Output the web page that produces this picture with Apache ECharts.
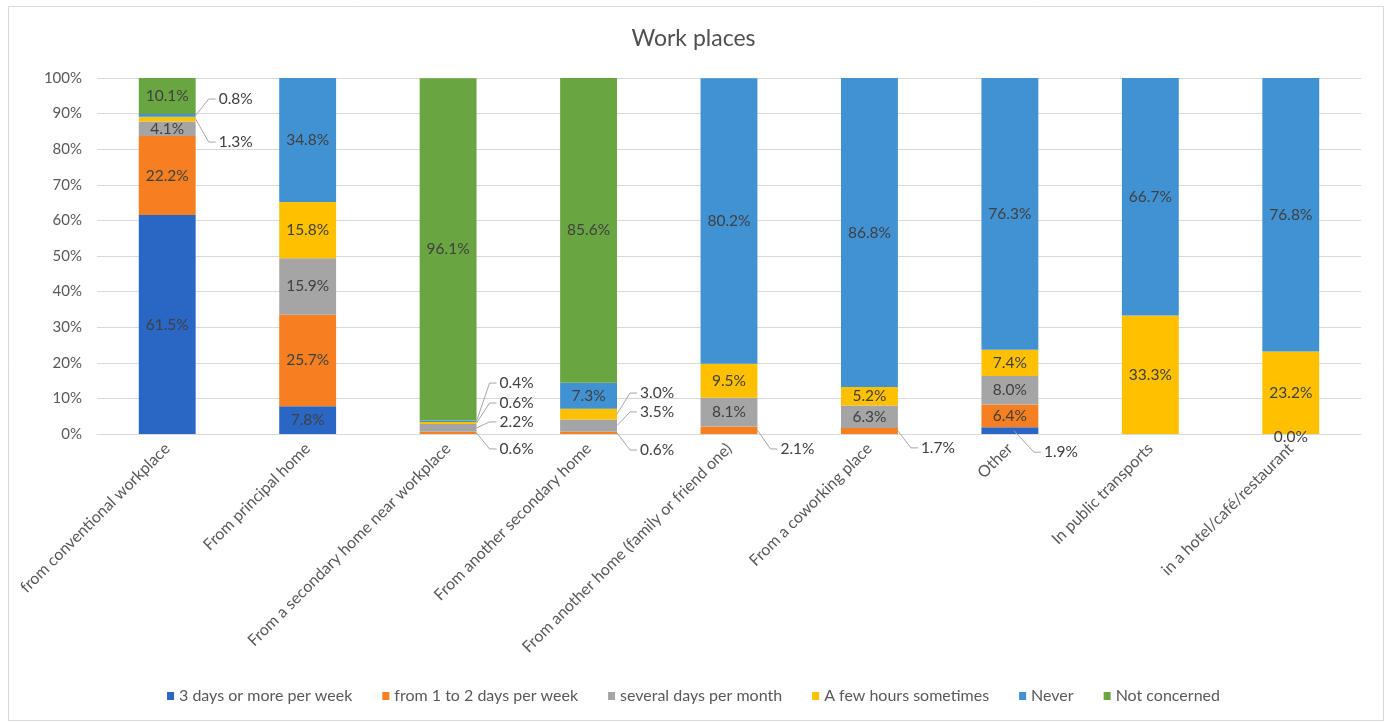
<!DOCTYPE html>
<html>
<head>
<meta charset="utf-8">
<script src="https://cdn.jsdelivr.net/npm/echarts@6/dist/echarts.min.js"></script>
<style>
html,body{margin:0;padding:0;background:#fff;}
#chart{width:1387px;height:723px;}
</style>
</head>
<body>
<div id="chart"></div>
<script>
// ---- Data ----
const categories = [
  "from conventional workplace",
  "From principal home",
  "From a secondary home near workplace",
  "From another secondary home",
  "From another home (family or friend one)",
  "From a coworking place",
  "Other",
  "In public transports",
  "in a hotel/café/restaurant"
];
const seriesNames = [
  "3 days or more per week",
  "from 1 to 2 days per week",
  "several days per month",
  "A few hours sometimes",
  "Never",
  "Not concerned"
];
const threeDaysOrMore = [61.5, 7.8, 0, 0, 0, 0, 1.9, 0, 0];
const oneToTwoDays    = [22.2, 25.7, 0.6, 0.6, 2.1, 1.7, 6.4, 0, 0];
const severalPerMonth = [4.1, 15.9, 2.2, 3.5, 8.1, 6.3, 8.0, 0, 0];
const fewHours        = [1.3, 15.8, 0.6, 3.0, 9.5, 5.2, 7.4, 33.3, 23.2];
const never           = [0.8, 34.8, 0.4, 7.3, 80.2, 86.8, 76.3, 66.7, 76.8];
const notConcerned    = [10.1, 0, 96.1, 85.6, 0, 0, 0, 0, 0];
const yTickLabels = ["0%","10%","20%","30%","40%","50%","60%","70%","80%","90%","100%"];

const seriesValues = [threeDaysOrMore, oneToTwoDays, severalPerMonth, fewHours, never, notConcerned];

// ---- Styling / layout (not data) ----
const colors = ['#2a66c4', '#f57f21', '#a5a5a5', '#ffc000', '#4192d3', '#69a642'];
const FONT = 'Lato, "Liberation Sans", sans-serif';
const LABEL_COLOR = '#404040';
const LABEL_SIZE = 15.5;
const BAR_W = 0.405;
// Callout labels for thin segments: category, series, text level on the axis
const calloutLayout = [
  {cat: 0, s: 4, ty: 94.1},
  {cat: 0, s: 3, ty: 82.0},
  {cat: 2, s: 4, ty: 14.3},
  {cat: 2, s: 3, ty: 8.7},
  {cat: 2, s: 2, ty: 3.4},
  {cat: 2, s: 1, ty: -4.2},
  {cat: 3, s: 3, ty: 11.5},
  {cat: 3, s: 2, ty: 6.2},
  {cat: 3, s: 1, ty: -4.5},
  {cat: 4, s: 1, ty: -4.2},
  {cat: 5, s: 1, ty: -3.9},
  {cat: 6, s: 0, ty: -5.1, fromCenter: true},
  {cat: 8, s: 0, ty: null}
];

const chart = echarts.init(document.getElementById('chart'), null, {renderer: 'canvas'});

const barSeries = seriesNames.map((name, i) => ({
  name: name,
  type: 'bar',
  stack: 'total',
  barWidth: (BAR_W * 100) + '%',
  data: seriesValues[i],
  itemStyle: {color: colors[i]},
  emphasis: {disabled: true},
  label: {
    show: true,
    position: 'inside',
    color: LABEL_COLOR,
    fontFamily: FONT,
    fontSize: LABEL_SIZE,
    formatter: p => (p.value >= 4 ? p.value.toFixed(1) + '%' : '')
  }
}));

const calloutSeries = {
  type: 'custom',
  name: 'callouts',
  z: 10,
  clip: false,
  silent: true,
  data: calloutLayout.map(c => [c.cat, 0]),
  renderItem: function (params, api) {
    const c = calloutLayout[params.dataIndex];
    let base = 0;
    for (let k = 0; k < c.s; k++) base += seriesValues[k][c.cat];
    const v = seriesValues[c.s][c.cat];
    const mid = api.coord([c.cat, base + v / 2]);
    const half = api.size([1, 0])[0] * BAR_W / 2;
    const text = v.toFixed(1) + '%';
    const font = LABEL_SIZE + 'px ' + FONT;
    if (c.ty === null) {
      return {type: 'text', style: {x: mid[0], y: mid[1] + 3, text: text, align: 'center', verticalAlign: 'middle', fill: LABEL_COLOR, font: font}};
    }
    const ty = api.coord([c.cat, c.ty])[1];
    const x0 = c.fromCenter ? mid[0] + 4 : mid[0] + half;
    const e = c.fromCenter ? 20 : 13;
    return {
      type: 'group',
      children: [
        {type: 'polyline', shape: {points: [[x0, mid[1]], [x0 + e, ty], [x0 + e + 7, ty]]},
         style: {stroke: '#a6a6a6', lineWidth: 1, fill: null}},
        {type: 'text', style: {x: x0 + e + 10, y: ty, text: text, align: 'left', verticalAlign: 'middle', fill: LABEL_COLOR, font: font}}
      ]
    };
  }
};

chart.setOption({
  animation: false,
  backgroundColor: '#ffffff',
  color: colors,
  title: {
    text: 'Work places',
    left: 'center',
    top: 22,
    textStyle: {fontFamily: FONT, fontSize: 23, fontWeight: 'normal', color: '#505050'}
  },
  graphic: [{
    type: 'rect', left: 6, top: 4, shape: {width: 1375, height: 714},
    style: {fill: null, stroke: '#d9d9d9', lineWidth: 1}, silent: true
  }],
  legend: {
    data: seriesNames,
    left: 'center',
    top: 683,
    itemWidth: 7,
    itemHeight: 8,
    itemGap: 30,
    icon: 'rect',
    textStyle: {fontFamily: FONT, fontSize: 16, color: '#595959'}
  },
  grid: {left: 97, right: 26, top: 78, bottom: 289, containLabel: false},
  xAxis: {
    type: 'category',
    data: categories,
    axisLine: {lineStyle: {color: '#d9d9d9'}},
    axisTick: {show: false},
    axisLabel: {interval: 0, rotate: 45, margin: 12, color: '#595959', fontFamily: FONT, fontSize: 16}
  },
  yAxis: {
    type: 'value',
    min: 0,
    max: 100,
    interval: 10,
    axisLine: {show: false},
    axisTick: {show: false},
    splitLine: {lineStyle: {color: '#d9d9d9'}},
    axisLabel: {margin: 15, color: '#595959', fontFamily: FONT, fontSize: 15,
      formatter: v => yTickLabels[Math.round(v / 10)]}
  },
  series: barSeries.concat([calloutSeries])
});
</script>
</body>
</html>
